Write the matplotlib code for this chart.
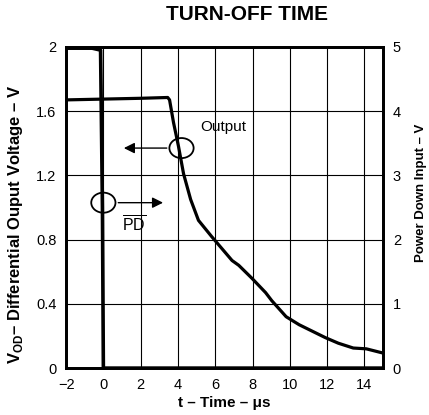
import matplotlib
matplotlib.use('Agg')
import matplotlib.pyplot as plt
from matplotlib.patches import Ellipse

plt.rcParams['font.family'] = ['Liberation Sans', 'DejaVu Sans']
plt.rcParams['mathtext.fontset'] = 'custom'
plt.rcParams['mathtext.rm'] = 'Liberation Sans'
plt.rcParams['mathtext.bf'] = 'Liberation Sans:bold'

# Output voltage (left axis, V)
out_t = [-2, 0, 2, 3.45, 3.55, 3.76, 4.03, 4.3, 4.68, 5.1, 5.8, 6.9, 7.26, 7.96,
         8.7, 9.03, 9.8, 10.5, 11.9, 12.6, 13.4, 14.1, 14.95]
out_v = [1.67, 1.675, 1.68, 1.685, 1.67, 1.53, 1.38, 1.21, 1.05, 0.92, 0.82, 0.67, 0.64, 0.56,
         0.47, 0.42, 0.32, 0.27, 0.19, 0.155, 0.125, 0.12, 0.095]

# Power down input (right axis, V)
pd_t = [-2, -0.6, -0.15, -0.05, 0.0, 15]
pd_v = [4.98, 4.98, 4.95, 2.5, 0.0, 0.0]

x_ticks = [-2, 0, 2, 4, 6, 8, 10, 12, 14]
y_ticks = [0, 0.4, 0.8, 1.2, 1.6, 2]
y2_ticks = [0, 1, 2, 3, 4, 5]

fig = plt.figure(figsize=(4.29, 4.15), dpi=100)
ax = fig.add_axes([0.154, 0.113, 0.739, 0.774])
ax.plot(out_t, out_v, color='black', lw=2.3, solid_joinstyle='round')
ax.set_xlim(-2, 15)
ax.set_ylim(0, 2)
ax.set_xticks(x_ticks)
ax.set_xticklabels(['\u22122' if v < 0 else str(v) for v in x_ticks])
ax.set_yticks(y_ticks)
ax.set_yticklabels(['0', '0.4', '0.8', '1.2', '1.6', '2'])
ax.grid(True, color='black', lw=0.8)
ax.tick_params(length=0, labelsize=10.5, pad=7)
for s in ax.spines.values():
    s.set_linewidth(2)

ax2 = ax.twinx()
ax2.plot(pd_t, pd_v, color='black', lw=2.6)
ax2.set_ylim(0, 5)
ax2.set_yticks(y2_ticks)
ax2.tick_params(length=0, labelsize=10.5, pad=7)
for s in ax2.spines.values():
    s.set_linewidth(2)

# circles and arrows
ax.add_patch(Ellipse((4.19, 1.37), 1.3, 0.125, fill=False, ec='black', lw=1.3, zorder=5))
ax.annotate('', xy=(0.95, 1.37), xytext=(3.55, 1.37),
            arrowprops=dict(arrowstyle='-|>', color='black', lw=1, mutation_scale=16))
ax.text(6.45, 1.5, 'Output', fontsize=11, ha='center', va='center')

ax.add_patch(Ellipse((0.0, 1.03), 1.3, 0.125, fill=False, ec='black', lw=1.3, zorder=5))
ax.annotate('', xy=(3.35, 1.03), xytext=(0.65, 1.03),
            arrowprops=dict(arrowstyle='-|>', color='black', lw=1, mutation_scale=16))
ax.text(1.67, 0.89, r'$\overline{\mathrm{PD}}$', fontsize=11.5, ha='center', va='center')

ax.set_xlabel('t \u2013 Time \u2013 \u03bcs', fontsize=11, fontweight='bold', labelpad=3)
ax.set_ylabel('$\\mathbf{V}_{\\mathbf{OD}}$\u2013 Differential Ouput Voltage \u2013 V',
              fontsize=12, fontweight='bold')
ax.yaxis.set_label_coords(-0.13, 0.449)
ax2.set_ylabel('Power Down Input \u2013 V', fontsize=9.5, fontweight='bold')
ax2.yaxis.set_label_coords(1.10, 0.545)
fig.text(0.576, 0.964, 'TURN-OFF TIME', fontsize=15, fontweight='bold', ha='center', va='center')

fig.savefig('out.png', dpi=100)
